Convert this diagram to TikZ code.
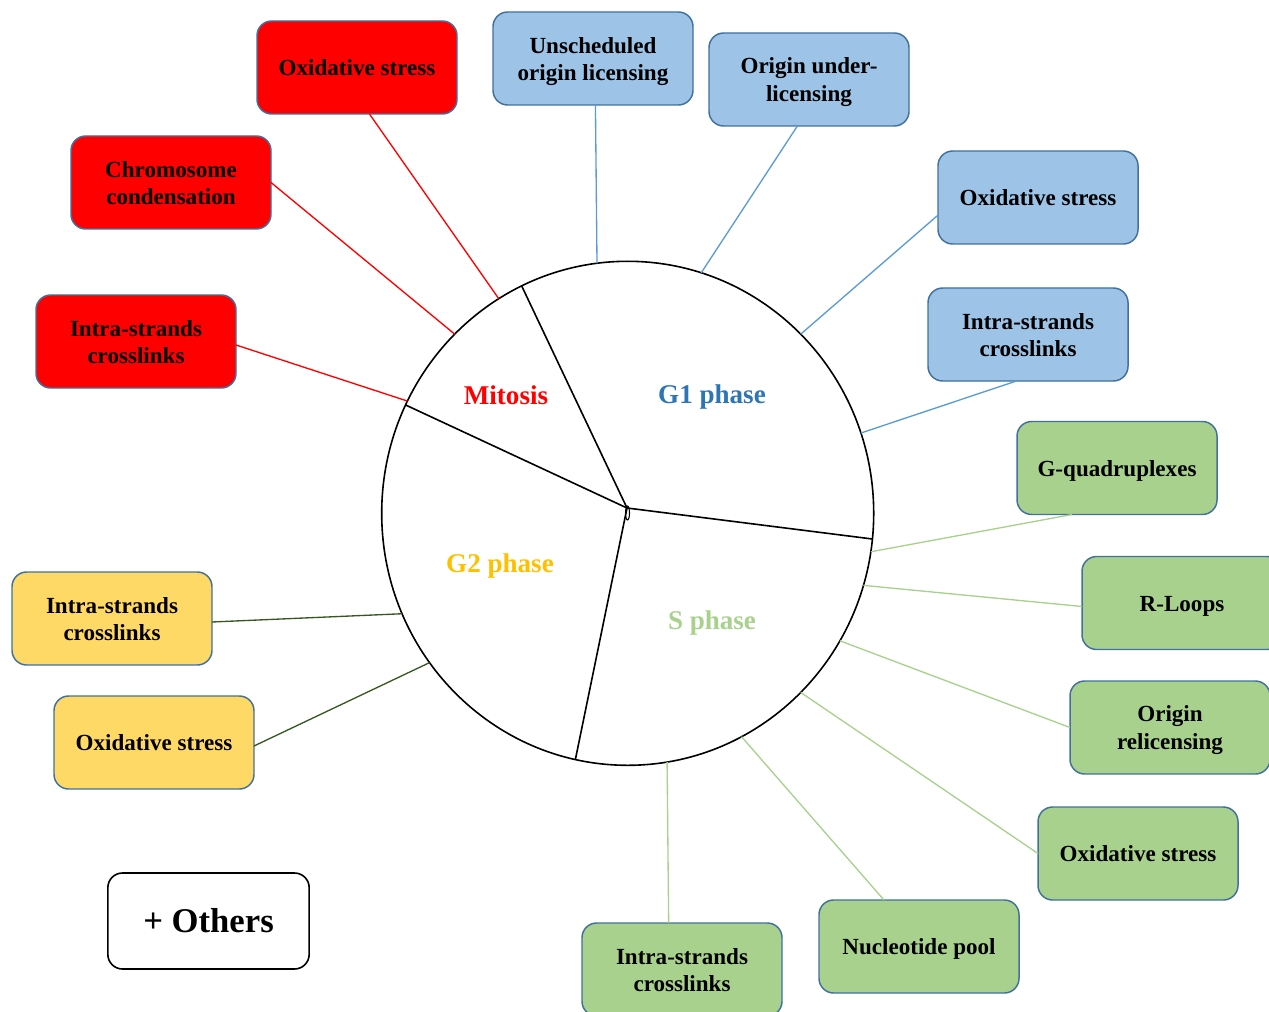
\documentclass[tikz,border=0pt]{standalone}
\usepackage{fontspec}
\setmainfont{Liberation Serif}
\usetikzlibrary{shapes.geometric}
\definecolor{edgeblue}{HTML}{41719C}
\definecolor{boxred}{HTML}{FF0000}
\definecolor{boxblue}{HTML}{9DC3E6}
\definecolor{boxgreen}{HTML}{A9D18E}
\definecolor{boxyellow}{HTML}{FFD966}
\definecolor{lineblue}{HTML}{5B9BD5}
\definecolor{linegreen}{HTML}{A9D18E}
\definecolor{linedark}{HTML}{385723}
\definecolor{gonetext}{HTML}{2E75B6}
\definecolor{gtwotext}{HTML}{FFC000}
\newcommand\mystrut{\rule[-3.8pt]{0pt}{20pt}}
\begin{document}
\begin{tikzpicture}[x=0.75pt,y=-0.75pt,
  box/.style={rectangle, rounded corners=11pt, draw=edgeblue, line width=1.1pt,
    minimum width=150pt, minimum height=69.75pt, align=center, inner sep=2pt,
    outer sep=0pt, font=\fontsize{17.3}{20}\selectfont\bfseries},
  redbox/.style={box, fill=boxred},
  bluebox/.style={box, fill=boxblue},
  greenbox/.style={box, fill=boxgreen},
  yellowbox/.style={box, fill=boxyellow},
  otherbox/.style={box, draw=black, fill=white, line width=1.2pt, minimum width=151pt, minimum height=72pt,
    font=\fontsize{26}{30}\selectfont\bfseries},
  phase/.style={font=\fontsize{20.3}{24}\selectfont\bfseries, inner sep=0pt, anchor=base},
  redline/.style={draw=boxred, line width=1pt},
  blueline/.style={draw=lineblue, line width=1pt},
  greenline/.style={draw=linegreen, line width=1pt},
  darkline/.style={draw=linedark, line width=1pt},
  pieline/.style={draw=black, line width=1.2pt}]
\useasboundingbox (0,0) rectangle (1269,1012);

% circle
\node[ellipse, draw, line width=1.2pt, minimum width=369pt, minimum height=378pt,
  inner sep=0pt, outer sep=0pt] (C) at (627.7,513.3) {};
\coordinate (O) at (627,508);
\draw[pieline] (O) -- (C.115.2);
\draw[pieline] (O) -- (C.-6.0);
\draw[pieline] (O) -- (C.258.2);
\draw[pieline] (O) -- (C.154.2);
\draw[line width=0.8pt] (627.5,513) ellipse [x radius=2, y radius=7];

% phase labels
\node[phase, text=boxred] (mit) at (506,404) {Mitosis};
\node[phase, text=gonetext] (g1) at (712,403.5) {G1 phase};
\node[phase, text=gtwotext] (g2) at (500,572.7) {G2 phase};
\node[phase, text=linegreen] (sph) at (712,629) {S phase};

% red boxes
\node[redbox] (rOx) at (357,67.5) {\mystrut Oxidative stress};
\node[redbox] (rChr) at (171,182.5) {\mystrut Chromosome\\\mystrut condensation};
\node[redbox] (rIntra) at (136,341.5) {\mystrut Intra-strands\\\mystrut crosslinks};

% blue boxes
\node[bluebox] (bUns) at (593,58.5) {\mystrut Unscheduled\\\mystrut origin licensing};
\node[bluebox] (bUnder) at (809,79.5) {\mystrut Origin under-\\\mystrut licensing};
\node[bluebox] (bOx) at (1038,197.5) {\mystrut Oxidative stress};
\node[bluebox] (bIntra) at (1028,334.5) {\mystrut Intra-strands\\\mystrut crosslinks};

% green boxes
\node[greenbox] (gQuad) at (1117,468) {\mystrut G-quadruplexes};
\node[greenbox] (gR) at (1182,603) {\mystrut R-Loops};
\node[greenbox] (gOri) at (1170,727.5) {\mystrut Origin\\\mystrut relicensing};
\node[greenbox] (gOx) at (1138,853.5) {\mystrut Oxidative stress};
\node[greenbox] (gNuc) at (919,946.5) {\mystrut Nucleotide pool};
\node[greenbox] (gIntra) at (682,969.5) {\mystrut Intra-strands\\\mystrut crosslinks};

% yellow boxes
\node[yellowbox] (yIntra) at (112,618.5) {\mystrut Intra-strands\\\mystrut crosslinks};
\node[yellowbox] (yOx) at (154,742.5) {\mystrut Oxidative stress};

% others
\node[otherbox] (oth) at (208.5,921) {+ Others};

% connectors
\draw[redline] (rOx.-75.7) -- (C.121.6);
\draw[redline] (rChr.east) -- (C.134.7);
\draw[redline] (rIntra.-2) -- (C.153.2);

\draw[blueline] (bUns.-87.6) -- (C.97.2);
\draw[blueline] (bUnder.-104.2) -- (C.73.2);
\draw[blueline] (bOx.-170.1) -- (C.46.7);
\draw[blueline] (bIntra.-104.7) -- (C.19.2);

\draw[greenline] (gQuad.-134.1) -- (C.-9.9);
\draw[greenline] (gR.182.9) -- (C.-17.2);
\draw[greenline] (gOri.west) -- (C.-31.4);
\draw[greenline] (gOx.west) -- (C.-46.0);
\draw[greenline] (gNuc.127.7) -- (C.-63.2);
\draw[greenline] (gIntra.106.8) -- (C.-81.0);

\draw[darkline] (yIntra.-2.6) -- (C.204.9);
\draw[darkline] (yOx.-2.2) -- (C.217.9);
\end{tikzpicture}
\end{document}
